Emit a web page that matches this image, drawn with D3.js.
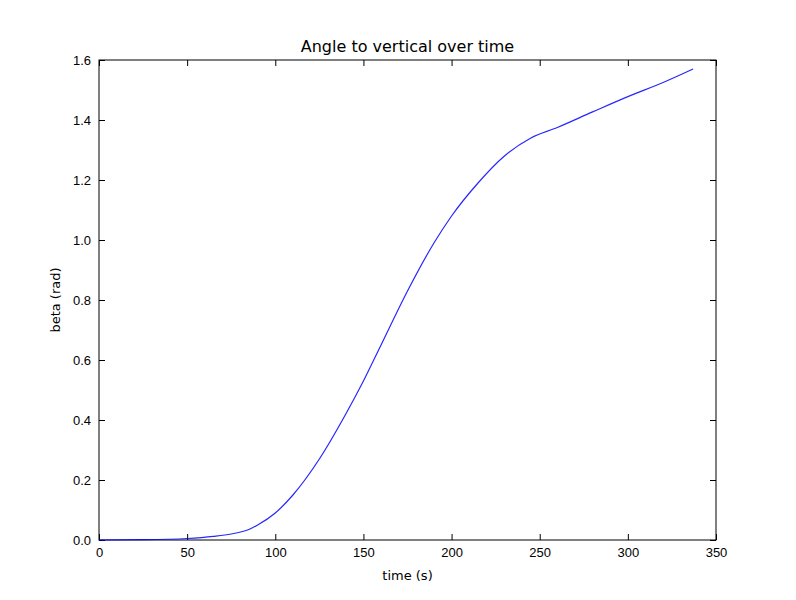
<!DOCTYPE html>
<html><head><meta charset="utf-8">
<script src="https://d3js.org/d3.v7.min.js"></script>
<style>body{margin:0;background:#fff}svg{font-family:"DejaVu Sans",sans-serif}</style>
</head><body>
<svg id="c" width="796" height="600"></svg>
<script>
const times = [0,25,50,65,75,85,90,100,110,125,140,150,160,175,190,200,215,230,245,260,280,300,320,337];
const beta  = [0,0.001,0.005,0.012,0.02,0.035,0.05,0.09,0.15,0.27,0.42,0.53,0.65,0.83,0.99,1.08,1.19,1.28,1.34,1.375,1.427,1.478,1.525,1.57];
const xTicks = [0,50,100,150,200,250,300,350];
const yTicks = [0.0,0.2,0.4,0.6,0.8,1.0,1.2,1.4,1.6];

const svg = d3.select("#c");
const L=99,R=716,T=60,B=540;
const x = d3.scaleLinear().domain([0,350]).range([L,R]);
const y = d3.scaleLinear().domain([0,1.6]).range([B,T]);

svg.append("rect").attr("x",L).attr("y",T).attr("width",R-L).attr("height",B-T).attr("fill","none").attr("stroke","#000");

const tick = (g)=>{g.select(".domain").remove();g.selectAll("text").attr("font-size",13).attr("fill","#000");g.selectAll("line").attr("stroke","#000");};
svg.append("g").attr("transform",`translate(0,${B})`).call(d3.axisBottom(x).tickValues(xTicks).tickSizeInner(-6).tickSizeOuter(0).tickPadding(8).tickFormat(d3.format("d"))).call(tick);
svg.append("g").attr("transform",`translate(0,${T})`).call(d3.axisTop(x).tickValues(xTicks).tickSizeInner(-6).tickSizeOuter(0).tickFormat("")).call(tick);
svg.append("g").attr("transform",`translate(${L},0)`).call(d3.axisLeft(y).tickValues(yTicks).tickSizeInner(-6).tickSizeOuter(0).tickPadding(8).tickFormat(d3.format(".1f"))).call(tick);
svg.append("g").attr("transform",`translate(${R},0)`).call(d3.axisRight(y).tickValues(yTicks).tickSizeInner(-6).tickSizeOuter(0).tickFormat("")).call(tick);

svg.append("path").datum(times.map((t,i)=>[t,beta[i]]))
  .attr("d",d3.line().x(d=>x(d[0])).y(d=>y(d[1])).curve(d3.curveMonotoneX))
  .attr("fill","none").attr("stroke","#0000ff").attr("stroke-width",1.2).attr("opacity",0.85);

svg.append("text").attr("x",(L+R)/2).attr("y",52).attr("text-anchor","middle").attr("font-size",16).text("Angle to vertical over time");
svg.append("text").attr("x",(L+R)/2).attr("y",580).attr("text-anchor","middle").attr("font-size",13).text("time (s)");
svg.append("text").attr("transform",`translate(60,${(T+B)/2}) rotate(-90)`).attr("text-anchor","middle").attr("font-size",13).text("beta (rad)");
</script>
</body></html>
